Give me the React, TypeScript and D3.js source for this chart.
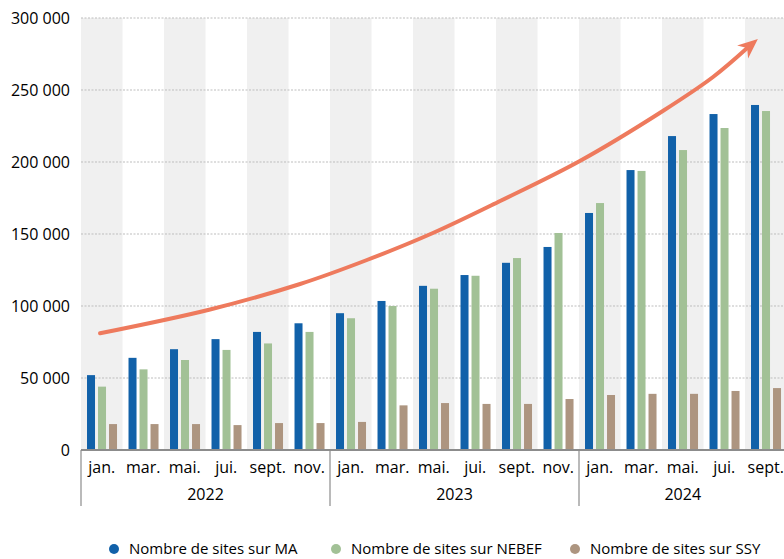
import React from 'react';
import * as d3 from 'd3';

const years = ['2022', '2023', '2024'];
const monthsByYear = [
  ['jan.', 'mar.', 'mai.', 'jui.', 'sept.', 'nov.'],
  ['jan.', 'mar.', 'mai.', 'jui.', 'sept.', 'nov.'],
  ['jan.', 'mar.', 'mai.', 'jui.', 'sept.'],
];
const seriesNames = ['Nombre de sites sur MA', 'Nombre de sites sur NEBEF', 'Nombre de sites sur SSY'];
const maValues = [52000, 64000, 70000, 77000, 82000, 88000, 95000, 103500, 114000, 121500, 130000, 141000, 164600, 194400, 218000, 233300, 239600];
const nebefValues = [44000, 56000, 62500, 69500, 74000, 82000, 91500, 100000, 112000, 121000, 133300, 150700, 171500, 193800, 208300, 223600, 235400];
const ssyValues = [18000, 18000, 18000, 17300, 18700, 18700, 19500, 31000, 32600, 32000, 32000, 35400, 38200, 39000, 39000, 41000, 43000];
const yTicks = [0, 50000, 100000, 150000, 200000, 250000, 300000];
const trendPositions = [0.46, 3.11, 5.28, 6.89, 8.48, 10.1, 12.02, 14.02, 15.23, 16.31];
const trendValues = [81040, 97570, 115280, 131940, 150690, 172920, 200690, 235420, 259030, 285420];

const colors = ['#1161A9', '#A2C196', '#AD9580'];
const arrowColor = '#EE7A5D';
const FONT = '"Open Sans", sans-serif';

export default function App() {
  const W = 784, H = 559;
  const left = 81, right = 786.5, top = 18, bottom = 450;

  const categories: { key: string; month: string; year: string }[] = [];
  monthsByYear.forEach((ms, yi) => ms.forEach((m) => categories.push({ key: years[yi] + '-' + m, month: m, year: years[yi] })));
  const n = categories.length;

  const x = d3.scaleBand<string>().domain(categories.map((c) => c.key)).range([left, right]).padding(0);
  const bw = x.bandwidth();
  const inner = d3.scaleBand<number>().domain([0, 1, 2]).range([bw * 0.145, bw * 0.868]).paddingInner(0.2727).paddingOuter(0);
  const y = d3.scaleLinear().domain([0, 300000]).range([bottom, top]);
  const allSeries = [maValues, nebefValues, ssyValues];

  const xPos = d3.scaleLinear().domain([0, n]).range([left, right]);
  const pts: [number, number][] = trendPositions.map((p, i) => [xPos(p), y(trendValues[i])]);
  const tip = pts[pts.length - 1];
  const prev = pts[pts.length - 2];
  const dx = tip[0] - prev[0], dy = tip[1] - prev[1];
  const len = Math.hypot(dx, dy);
  const ux = dx / len, uy = dy / len;
  const px = -uy, py = ux;
  const headLen = 20, headHalf = 8.5, notch = 14;
  const linePts = pts.slice(0, -1).concat([[tip[0] - ux * notch, tip[1] - uy * notch]] as [number, number][]);
  const lineGen = d3.line().curve(d3.curveCatmullRom.alpha(0.5));
  const head = [
    [tip[0], tip[1]],
    [tip[0] - ux * headLen + px * headHalf, tip[1] - uy * headLen + py * headHalf],
    [tip[0] - ux * notch, tip[1] - uy * notch],
    [tip[0] - ux * headLen - px * headHalf, tip[1] - uy * headLen - py * headHalf],
  ].map((p) => p.join(',')).join(' ');

  let idx = 0;
  const yearGroups = monthsByYear.map((ms, yi) => {
    const start = idx;
    idx += ms.length;
    return { year: years[yi], x0: xPos(start), x1: xPos(idx) };
  });

  const legendX = [114, 336, 575];
  const fmt = (t: number) => d3.format(',')(t).replace(/,/g, ' ');

  return (
    <svg width={W} height={H} style={{ position: 'absolute', left: 0, top: 0, background: '#fff' }}>
      {categories.map((c, i) =>
        i % 2 === 0 ? (
          <rect key={'b' + i} x={x(c.key)} y={top} width={bw} height={bottom - top} fill="#F0F0F0" />
        ) : null
      )}
      {yTicks.filter((t) => t > 0).map((t) => (
        <line key={'g' + t} x1={left} x2={W} y1={y(t)} y2={y(t)} stroke="#BDBDBD" strokeWidth={1} strokeDasharray="2,1.5" />
      ))}
      {yTicks.map((t) => (
        <text key={'t' + t} x={70} y={y(t)} dy="0.36em" textAnchor="end" fontFamily={FONT} fontSize={16} fill="#000">
          {fmt(t)}
        </text>
      ))}
      {categories.map((c, i) => (
        <g key={'c' + i} transform={`translate(${x(c.key)},0)`}>
          {allSeries.map((vals, s) => (
            <rect key={s} x={inner(s)} y={y(vals[i])} width={inner.bandwidth()} height={bottom - y(vals[i])} fill={colors[s]} />
          ))}
        </g>
      ))}
      <line x1={left} x2={W} y1={bottom} y2={bottom} stroke="#8C8C8C" strokeWidth={2} />
      {yearGroups.map((g) => (
        <line key={'s' + g.year} x1={g.x0} x2={g.x0} y1={bottom} y2={506} stroke="#8C8C8C" strokeWidth={1.2} />
      ))}
      {categories.map((c, i) => (
        <text key={'m' + i} x={(x(c.key) as number) + bw / 2} y={473} textAnchor="middle" fontFamily={FONT} fontSize={16} fill="#000">
          {c.month}
        </text>
      ))}
      {yearGroups.map((g) => (
        <text key={'y' + g.year} x={(g.x0 + g.x1) / 2} y={500} textAnchor="middle" fontFamily={FONT} fontSize={16} fill="#000">
          {g.year}
        </text>
      ))}
      <path d={lineGen(linePts) || ''} fill="none" stroke={arrowColor} strokeWidth={4} strokeLinecap="round" />
      <polygon points={head} fill={arrowColor} />
      {seriesNames.map((name, s) => (
        <g key={'l' + s}>
          <circle cx={legendX[s]} cy={549} r={5} fill={colors[s]} />
          <text x={legendX[s] + 15} y={554} fontFamily={FONT} fontSize={15} fill="#000">
            {name}
          </text>
        </g>
      ))}
    </svg>
  );
}
